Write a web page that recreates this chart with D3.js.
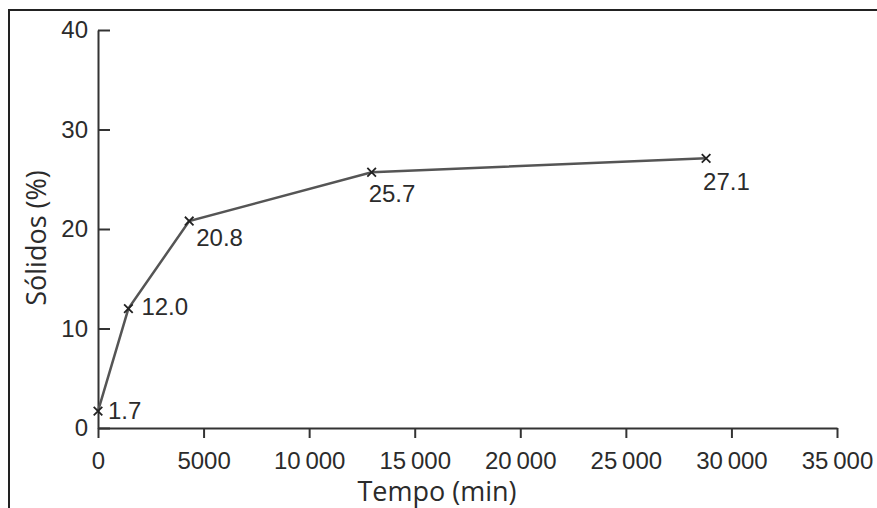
<!DOCTYPE html>
<html>
<head>
<meta charset="utf-8">
<script src="https://d3js.org/d3.v7.min.js"></script>
<style>
body { margin:0; background:#fff; }
</style>
</head>
<body>
<script>
// tempo (min) e sólidos (%)
var tempo = [0, 1440, 4320, 12960, 28800];
var solidos = [1.7, 12.0, 20.8, 25.7, 27.1];
var labels = ["1.7", "12.0", "20.8", "25.7", "27.1"];
var xTicks = [0, 5000, 10000, 15000, 20000, 25000, 30000, 35000];
var yTicks = [0, 10, 20, 30, 40];

var width = 877, height = 508;
var mLeft = 98, mRight = 837, mTop = 30, mBottom = 428;

var svg = d3.select("body").append("svg")
	.attr("width", width)
	.attr("height", height);

// moldura
svg.append("path")
	.attr("d", "M9 " + height + " V10 H" + width)
	.attr("fill", "none")
	.attr("stroke", "#222")
	.attr("stroke-width", 2);

var x = d3.scaleLinear().domain([0, 35000]).range([mLeft, mRight]);
var y = d3.scaleLinear().domain([0, 40]).range([mBottom, mTop]);

function fmt(d) {
	var s = String(d);
	if (d >= 10000) s = s.slice(0, s.length - 3) + "\u2009" + s.slice(-3);
	return s;
}

var gx = svg.append("g")
	.attr("transform", "translate(0," + mBottom + ")")
	.call(d3.axisBottom(x).tickValues(xTicks).tickFormat(fmt).tickSize(10).tickPadding(14).tickSizeOuter(0));
var gy = svg.append("g")
	.attr("transform", "translate(" + mLeft + ",0)")
	.call(d3.axisLeft(y).tickValues(yTicks).tickSize(-12).tickPadding(10).tickSizeOuter(0));

[gx, gy].forEach(function(g) {
	g.select(".domain").attr("stroke", "#333").attr("stroke-width", 2);
	g.selectAll(".tick line").attr("stroke", "#333").attr("stroke-width", 2);
	g.selectAll(".tick text")
		.attr("fill", "#2b2b2b")
		.style("font-family", "'Liberation Sans', Arial, sans-serif")
		.style("font-size", "24px");
});

var pts = tempo.map(function(t, i) { return {t: t, s: solidos[i], label: labels[i]}; });

svg.append("path")
	.datum(pts)
	.attr("fill", "none")
	.attr("stroke", "#555")
	.attr("stroke-width", 2.5)
	.attr("d", d3.line().x(function(d) { return x(d.t); }).y(function(d) { return y(d.s); }));

svg.selectAll(".mark")
	.data(pts)
	.enter()
	.append("path")
		.attr("class", "mark")
		.attr("transform", function(d) { return "translate(" + x(d.t) + "," + y(d.s) + ")"; })
		.attr("d", d3.symbol().type(d3.symbolTimes).size(50))
		.attr("fill", "none")
		.attr("stroke", "#222")
		.attr("stroke-width", 1.8);

// rótulos: os dois primeiros à direita, os outros abaixo
var offs = [[10, 8], [13, 6], [7, 25], [-3, 30], [-3, 32]];
svg.selectAll(".lbl")
	.data(pts)
	.enter()
	.append("text")
		.attr("class", "lbl")
		.attr("x", function(d, i) { return x(d.t) + offs[i][0]; })
		.attr("y", function(d, i) { return y(d.s) + offs[i][1]; })
		.attr("fill", "#2b2b2b")
		.style("font-family", "'Liberation Sans', Arial, sans-serif")
		.style("font-size", "24px")
		.text(function(d) { return d.label; });

svg.append("text")
	.attr("x", 437)
	.attr("y", 501)
	.attr("text-anchor", "middle")
	.attr("fill", "#2b2b2b")
	.style("font-family", "'Open Sans', sans-serif")
	.style("font-size", "27px")
	.text("Tempo (min)");

svg.append("text")
	.attr("transform", "translate(46,238) rotate(-90)")
	.attr("text-anchor", "middle")
	.attr("fill", "#2b2b2b")
	.style("font-family", "'Open Sans', sans-serif")
	.style("font-size", "27px")
	.text("Sólidos (%)");
</script>
</body>
</html>
